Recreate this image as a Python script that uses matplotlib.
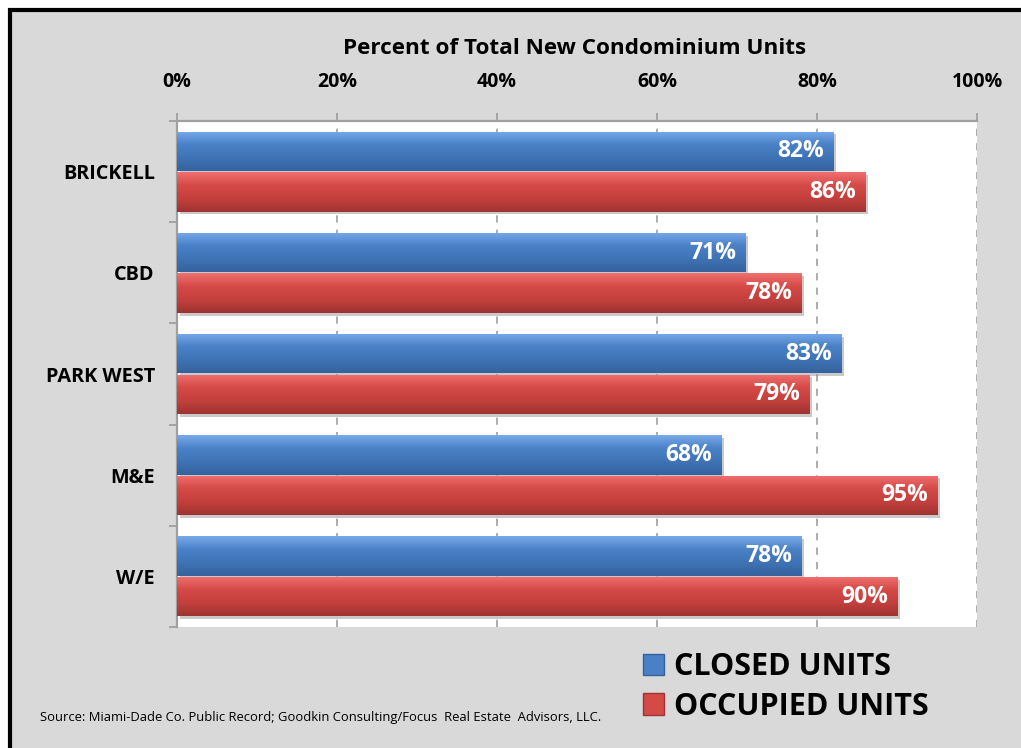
import matplotlib
matplotlib.use("Agg")
import matplotlib.pyplot as plt
import numpy as np
from matplotlib.patches import Rectangle, Patch
from matplotlib import patheffects as pe
from matplotlib.colors import LinearSegmentedColormap

plt.rcParams['font.family'] = ['Open Sans', 'DejaVu Sans']

categories = ["BRICKELL", "CBD", "PARK WEST", "M&E", "W/E"]
closed_units = [82, 71, 83, 68, 78]
occupied_units = [86, 78, 79, 95, 90]
series_names = ["CLOSED UNITS", "OCCUPIED UNITS"]
xticks = [0, 20, 40, 60, 80, 100]
xtick_labels = ["0%", "20%", "40%", "60%", "80%", "100%"]
title = "Percent of Total New Condominium Units"
source = "Source: Miami-Dade Co. Public Record; Goodkin Consulting/Focus  Real Estate  Advisors, LLC."

W, H = 1021, 748
fig = plt.figure(figsize=(W / 100, H / 100), dpi=100, facecolor="white")

# gray frame with black border
fig.patches.append(Rectangle((10 / W, -0.1), 1.2, 1 - 10 / H + 0.1, transform=fig.transFigure,
                             facecolor="#d9d9d9", edgecolor="black", linewidth=3.0, zorder=-10))

ax = fig.add_axes([177 / W, 1 - 627 / H, 800 / W, 506 / H])
ax.set_facecolor("white")

blue_cmap = LinearSegmentedColormap.from_list("b", ["#78aaea", "#4a81c6", "#3f73b5", "#35629c"])
red_cmap = LinearSegmentedColormap.from_list("r", ["#f07070", "#d44a47", "#c4403d", "#9e3331"])

y = np.arange(len(categories))
h = 0.39
grad = np.linspace(0, 1, 100).reshape(-1, 1)

def draw(vals, offset, cmap, base):
    bars = ax.barh(y + offset, vals, height=h, color=base, zorder=3,
                   path_effects=[pe.SimplePatchShadow(offset=(2, -2), shadow_rgbFace="#888888", alpha=0.45), pe.Normal()])
    for b, v in zip(bars, vals):
        x0, y0, w, hh = b.get_x(), b.get_y(), b.get_width(), b.get_height()
        im = ax.imshow(grad, cmap=cmap, aspect="auto", extent=(x0, x0 + w, y0 + hh, y0),
                       zorder=4, interpolation="bicubic")
        im.set_clip_path(b)
        ax.text(x0 + w - 1.1, y0 + hh / 2, f"{v}%", ha="right", va="center",
                color="white", fontsize=16.5, fontweight="bold", zorder=6)
    return bars

draw(closed_units, -0.2, blue_cmap, "#4a81c6")
draw(occupied_units, 0.2, red_cmap, "#d44a47")

ax.set_xlim(0, 100)
ax.set_ylim(len(categories) - 0.5, -0.5)

ax.xaxis.tick_top()
ax.set_xticks(xticks)
ax.set_xticklabels(xtick_labels, fontsize=14, fontweight="bold")
ax.tick_params(axis="x", which="major", length=6, width=1.3, color="#a0a0a0", pad=15)
ax.set_yticks(y)
ax.set_yticklabels(categories, fontsize=14.3, fontweight="bold")
ax.tick_params(axis="y", which="major", length=0, pad=16)
ax.set_yticks(np.arange(-0.5, len(categories) + 0.5, 1), minor=True)
ax.tick_params(axis="y", which="minor", length=6, width=1.3, color="#a0a0a0")

for s in ["right", "bottom"]:
    ax.spines[s].set_visible(False)
for s in ["top", "left"]:
    ax.spines[s].set_color("#a0a0a0")
    ax.spines[s].set_linewidth(1.6)

for xv in xticks[1:]:
    ax.axvline(xv, color="#a6a6a6", linestyle=(0, (4, 4)), linewidth=1.3, zorder=1)

fig.text(575 / W, 1 - 49 / H, title, ha="center", va="center", fontsize=16.2, fontweight="bold")
fig.text(40 / W, 1 - 717 / H, source, ha="left", va="center", fontsize=9.4)

handles = [Patch(facecolor="#4a81c6", edgecolor="#35629c"), Patch(facecolor="#d44a47", edgecolor="#9e3331")]
fig.legend(handles, series_names, loc="upper left", bbox_to_anchor=(643 / W, 1 - 652 / H),
           frameon=False, prop={"weight": "bold", "size": 22},
           handlelength=0.7, handleheight=0.7, handletextpad=0.3, labelspacing=0.32,
           borderpad=0, borderaxespad=0)

fig.savefig("out.png", dpi=100, facecolor="white")
